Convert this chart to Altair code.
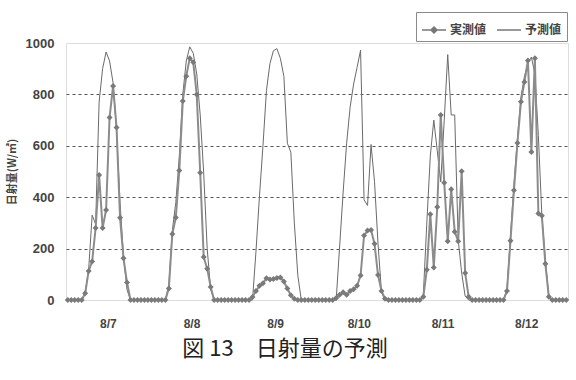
import json
import altair as alt
import pandas as pd

days = ["8/7", "8/8", "8/9", "8/10", "8/11", "8/12"]
series_names = ["実測値", "予測値"]

# hourly values (0h..23h) per day, W/m2
actual_8_7 = [0, 0, 0, 0, 0, 26, 113, 150, 280, 486, 280, 350, 710, 833, 671, 320, 162, 68, 0, 0, 0, 0, 0, 0]
actual_8_8 = [0, 0, 0, 0, 0, 45, 257, 321, 504, 774, 871, 941, 925, 800, 495, 167, 122, 51, 0, 0, 0, 0, 0, 0]
actual_8_9 = [0, 0, 0, 0, 0, 12, 35, 55, 65, 85, 80, 82, 86, 88, 72, 45, 18, 5, 0, 0, 0, 0, 0, 0]
actual_8_10 = [0, 0, 0, 0, 0, 8, 20, 30, 20, 35, 42, 55, 95, 251, 270, 272, 219, 97, 35, 5, 0, 0, 0, 0]
actual_8_11 = [0, 0, 0, 0, 0, 0, 13, 118, 334, 126, 362, 720, 456, 229, 431, 266, 229, 501, 105, 13, 0, 0, 0, 0]
actual_8_12 = [0, 0, 0, 0, 0, 0, 35, 231, 427, 611, 771, 848, 932, 576, 941, 337, 328, 141, 13, 0, 0, 0, 0, 0]

pred_8_7 = [0, 0, 0, 0, 0, 30, 120, 330, 295, 770, 900, 965, 930, 845, 660, 380, 170, 40, 0, 0, 0, 0, 0, 0]
pred_8_8 = [0, 0, 0, 0, 0, 60, 270, 380, 560, 800, 930, 985, 960, 880, 720, 495, 200, 40, 0, 0, 0, 0, 0, 0]
pred_8_9 = [0, 0, 0, 0, 0, 0, 190, 405, 600, 815, 920, 970, 978, 940, 870, 610, 575, 300, 95, 0, 0, 0, 0, 0]
pred_8_10 = [0, 0, 0, 0, 0, 0, 210, 420, 610, 750, 840, 905, 972, 390, 368, 605, 460, 220, 30, 0, 0, 0, 0, 0]
pred_8_11 = [0, 0, 0, 0, 0, 0, 20, 300, 560, 700, 580, 460, 700, 955, 720, 720, 235, 105, 15, 0, 0, 0, 0, 0]
pred_8_12 = [0, 0, 0, 0, 0, 0, 45, 250, 450, 630, 790, 870, 920, 945, 880, 640, 330, 160, 10, 0, 0, 0, 0, 0]

actual_days = [actual_8_7, actual_8_8, actual_8_9, actual_8_10, actual_8_11, actual_8_12]
pred_days = [pred_8_7, pred_8_8, pred_8_9, pred_8_10, pred_8_11, pred_8_12]

rows = []
for d, (a_day, p_day) in enumerate(zip(actual_days, pred_days)):
    for h in range(24):
        idx = d * 24 + h
        rows.append({"t": idx + 0.5, "value": a_day[h], "series": series_names[0]})
        rows.append({"t": idx + 0.5, "value": p_day[h], "series": series_names[1]})
df = pd.DataFrame(rows)

n_hours = 24 * len(days)
day_centers = [24 * d + 12 for d in range(len(days))]
label_expr = f"{json.dumps(days)}[floor(datum.value / 24)]"

FONT_JP = "Noto Sans CJK JP"

x_enc = alt.X(
    "t:Q",
    scale=alt.Scale(domain=[0, n_hours], nice=False, zero=False),
    axis=alt.Axis(
        values=day_centers, labelExpr=label_expr, grid=False, ticks=False,
        domain=False, title=None, labelFont="Liberation Sans", labelFontSize=12,
        labelFontWeight="bold", labelColor="#444", labelPadding=18,
    ),
)
y_enc = alt.Y(
    "value:Q",
    scale=alt.Scale(domain=[0, 1000], nice=False),
    axis=alt.Axis(
        values=[0, 200, 400, 600, 800, 1000], format="d", grid=True, gridDash=[3, 3],
        gridColor="#555", gridWidth=1,
        gridOpacity={"condition": {"test": "datum.value == 0 || datum.value == 1000", "value": 0}, "value": 1},
        ticks=False, domain=False, title="日射量(W/㎡)", titleFont=FONT_JP,
        titleFontSize=11, titleFontWeight="bold", titleColor="#444", titlePadding=8,
        labelFont="Liberation Sans", labelFontSize=13, labelFontWeight="bold",
        labelColor="#444", labelPadding=12,
    ),
)

base = alt.Chart(df)

pred_line = base.transform_filter(alt.datum.series == series_names[1]).mark_line(
    color="#6a6a6a", strokeWidth=1
).encode(x=x_enc, y=y_enc)

act_line = base.transform_filter(alt.datum.series == series_names[0]).mark_line(
    color="#8c8c8c", strokeWidth=2
).encode(x=x_enc, y=y_enc)

diamond_line = "M-1,0L1,0M0,-0.25L0.25,0L0,0.25L-0.25,0Z"
line_only = "M-1,0L1,0"

legend_opts = dict(
    title=None, orient="none", legendX=350, legendY=-31, direction="horizontal",
    strokeColor="#8a8a8a", fillColor="white", padding=5,
    labelFont=FONT_JP, labelFontSize=12, labelFontWeight="bold", labelColor="#444",
    symbolStrokeWidth=1.5, symbolStrokeColor="#777", columnPadding=7,
    labelOffset=3, symbolSize=576,
)

points = base.mark_point(filled=True, size=576, strokeWidth=0, opacity=1).encode(
    x=x_enc,
    y=y_enc,
    color=alt.Color(
        "series:N",
        scale=alt.Scale(domain=series_names, range=["#7a7a7a", "#6a6a6a"]),
        legend=alt.Legend(**legend_opts),
    ),
    shape=alt.Shape(
        "series:N",
        scale=alt.Scale(domain=series_names, range=[diamond_line, line_only]),
        legend=alt.Legend(**legend_opts),
    ),
)

chart = alt.layer(pred_line, act_line, points).properties(
    width=502,
    height=257,
    autosize=alt.AutoSizeParams(type="none"),
    padding={"left": 66, "top": 43, "right": 8, "bottom": 80},
    title=alt.TitleParams(
        "図 13　日射量の予測", orient="bottom", anchor="middle", font=FONT_JP,
        fontSize=22, fontWeight="normal", color="#222", offset=10, dx=-32,
    ),
).configure_view(stroke="#aaaaaa", strokeWidth=1.5).configure(background="white")

chart.save("out.html", embed_options={"renderer": "svg", "actions": False})
